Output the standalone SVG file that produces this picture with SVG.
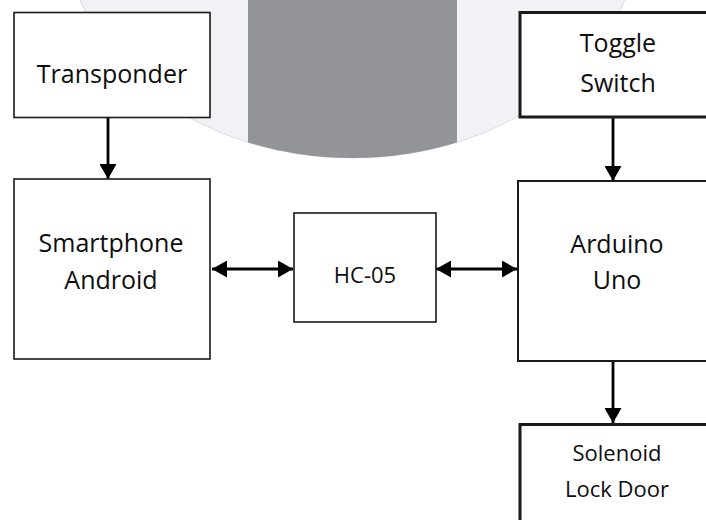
<svg xmlns="http://www.w3.org/2000/svg" width="706" height="520" viewBox="0 0 706 520">
  <style>
    .box { fill: #ffffff; stroke: #1a1a1a; }
    .thin { stroke-width: 1.6; }
    .mid { stroke-width: 2; }
    .thick { stroke-width: 3; }
    .lbl { font-family: "Open Sans", "Liberation Sans", sans-serif; font-size: 25px; fill: #0d0d0d; text-anchor: middle; }
    .small { font-size: 22px; }
    .conn { stroke: #000000; stroke-width: 2.8; fill: none; }
  </style>
  <defs>
    <marker id="ah" markerUnits="userSpaceOnUse" markerWidth="16" markerHeight="17" refX="15" refY="8.5" orient="auto-start-reverse">
      <path d="M0,0 L15,8.5 L0,17 Z" fill="#000000"/>
    </marker>
    <clipPath id="circClip">
      <ellipse cx="352.5" cy="-66" rx="285" ry="224"/>
    </clipPath>
  </defs>
  <rect x="0" y="0" width="706" height="520" fill="#ffffff"/>
  <g id="background">
    <ellipse cx="352.5" cy="-66" rx="285" ry="224" fill="#f2f2f6" stroke="#dcdce2" stroke-width="1"/>
    <rect x="248" y="-10" width="209" height="200" fill="#939498" clip-path="url(#circClip)"/>
  </g>
  <g id="connectors">
    <line class="conn" x1="108" y1="117" x2="108" y2="179" marker-end="url(#ah)"/>
    <line class="conn" x1="212" y1="269" x2="293" y2="269" marker-start="url(#ah)" marker-end="url(#ah)"/>
    <line class="conn" x1="436" y1="269" x2="517" y2="269" marker-start="url(#ah)" marker-end="url(#ah)"/>
    <line class="conn" x1="613" y1="118" x2="613" y2="181" marker-end="url(#ah)"/>
    <line class="conn" x1="613" y1="361" x2="613" y2="423" marker-end="url(#ah)"/>
  </g>
  <g id="transponder">
    <rect class="box thin" x="14" y="12.5" width="196" height="105"/>
    <text class="lbl" x="112" y="83">Transponder</text>
  </g>
  <g id="smartphone">
    <rect class="box thin" x="14" y="179" width="196" height="180"/>
    <text class="lbl" x="111" y="252">Smartphone</text>
    <text class="lbl" x="111" y="289">Android</text>
  </g>
  <g id="hc05">
    <rect class="box thin" x="294" y="213" width="142" height="109"/>
    <text class="lbl small" x="365" y="283">HC-05</text>
  </g>
  <g id="toggle">
    <rect class="box thick" x="520" y="12.5" width="200" height="104.5"/>
    <text class="lbl" x="618" y="52">Toggle</text>
    <text class="lbl" x="618" y="92">Switch</text>
  </g>
  <g id="arduino">
    <rect class="box mid" x="518" y="181" width="200" height="180"/>
    <text class="lbl" x="617" y="253">Arduino</text>
    <text class="lbl" x="617" y="289">Uno</text>
  </g>
  <g id="solenoid">
    <rect class="box thick" x="520" y="424.5" width="200" height="110"/>
    <text class="lbl small" x="617" y="461">Solenoid</text>
    <text class="lbl small" x="617" y="497">Lock Door</text>
  </g>
</svg>
